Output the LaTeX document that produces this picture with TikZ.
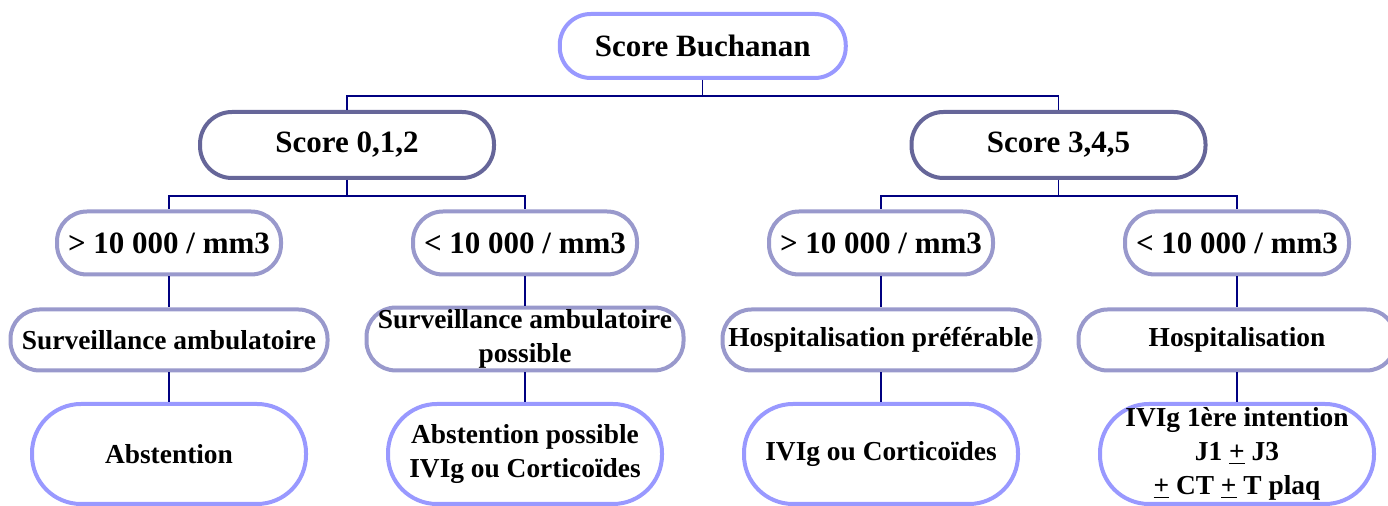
\documentclass[tikz,border=0pt]{standalone}
\usepackage{fontspec}
\setmainfont{Liberation Serif}
\usetikzlibrary{positioning}
\definecolor{topline}{HTML}{9999FF}
\definecolor{scoreline}{HTML}{666699}
\definecolor{midline}{HTML}{9999CC}
\definecolor{linkblue}{HTML}{000080}

\begin{document}
\begin{tikzpicture}[x=0.5pt, y=-0.5pt, node distance=178pt,
  box/.style={draw, fill=white, line width=2pt, align=center, inner sep=1pt},
  bigtext/.style={font=\fontsize{15.5}{18}\selectfont\bfseries},
  smalltext/.style={font=\fontsize{13.7}{17}\selectfont\bfseries},
  topbox/.style={box, bigtext, draw=topline, minimum width=143pt, minimum height=32pt, rounded corners=15.5pt},
  scorebox/.style={box, bigtext, draw=scoreline, minimum width=147pt, minimum height=33pt, rounded corners=16pt},
  countbox/.style={box, bigtext, draw=midline, minimum width=112pt, minimum height=31.5pt, rounded corners=15pt},
  carebox/.style={box, smalltext, draw=midline, minimum width=158.5pt, minimum height=30.5pt, rounded corners=14.5pt},
  treatbox/.style={box, smalltext, draw=topline, minimum width=137pt, minimum height=50pt, rounded corners=24.5pt},
  link/.style={draw=linkblue, line width=0.6pt}]
\useasboundingbox (0,0) rectangle (1388,506);

\node (top)[topbox] at (702.75,46) {Score Buchanan};
\node (s012)[scorebox] at (347,145) {Score 0,1,2};
\node (s345)[scorebox] at (1058.5,145) {Score 3,4,5};

\node (c1)[countbox] at (169,243) {> 10 000 / mm3};
\node (c2)[countbox] [right of = c1] {< 10 000 / mm3};
\node (c3)[countbox] [right of = c2] {> 10 000 / mm3};
\node (c4)[countbox] [right of = c3] {< 10 000 / mm3};

\node (a1)[carebox] [below of = c1, node distance=48.5pt] {Surveillance ambulatoire};
\node (a2)[carebox] [below of = c2, node distance=48pt] {Surveillance ambulatoire\\possible};
\node (a3)[carebox] [below of = c3, node distance=48.5pt] {Hospitalisation préférable};
\node (a4)[carebox] [below of = c4, node distance=48.5pt] {Hospitalisation};

\node (t1)[treatbox] [below of = a1, node distance=57pt] {Abstention};
\node (t2)[treatbox] [below of = a2, node distance=57.5pt] {Abstention possible\\IVIg ou Corticoïdes};
\node (t3)[treatbox] [below of = a3, node distance=57pt] {IVIg ou Corticoïdes};
\node (t4)[treatbox] [below of = a4, node distance=57pt] {IVIg 1ère intention\\J1 \underline{+} J3\\\underline{+} CT \underline{+} T plaq};

\draw[link] (top.south) -- ++(0,16) -| (s012.north);
\draw[link] (top.south) -- ++(0,16) -| (s345.north);
\draw[link] (s012.south) -- ++(0,16) -| (c1.north);
\draw[link] (s012.south) -- ++(0,16) -| (c2.north);
\draw[link] (s345.south) -- ++(0,16) -| (c3.north);
\draw[link] (s345.south) -- ++(0,16) -| (c4.north);
\draw[link] (c1) -- (a1);
\draw[link] (c2) -- (a2);
\draw[link] (c3) -- (a3);
\draw[link] (c4) -- (a4);
\draw[link] (a1) -- (t1);
\draw[link] (a2) -- (t2);
\draw[link] (a3) -- (t3);
\draw[link] (a4) -- (t4);
\end{tikzpicture}
\end{document}
